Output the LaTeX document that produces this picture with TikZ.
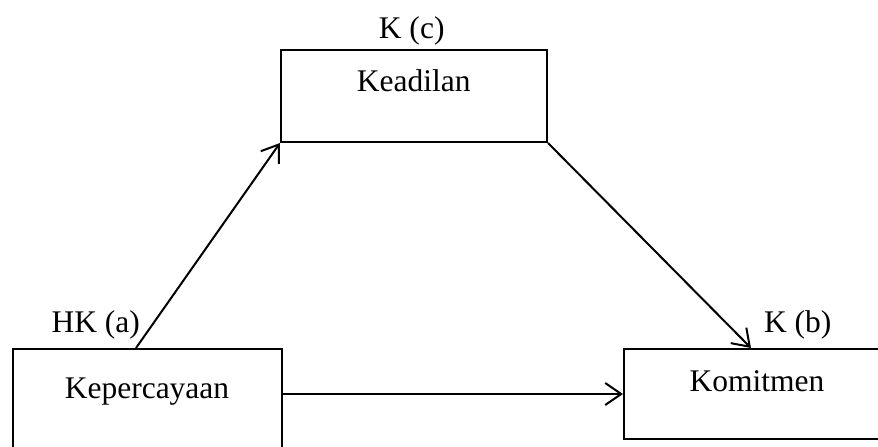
\documentclass[tikz,border=0pt]{standalone}
\usepackage{fontspec}
\setmainfont{Liberation Serif}
\usetikzlibrary{arrows.meta,calc}
\tikzset{
  box/.style={draw, line width=2bp, inner sep=0pt},
  lbl/.style={anchor=base, inner sep=0pt, font=\fontsize{31.5bp}{38bp}\selectfont},
  arr/.style={line width=2bp, -{Straight Barb[length=16bp, width=22bp, line width=2bp]}}
}
\begin{document}
\begin{tikzpicture}[x=1bp, y=-1bp]
  \useasboundingbox (0,0) rectangle (878,447);
  \clip (0,0) rectangle (878,447);
  % boxes
  \node[box, minimum width=266bp, minimum height=92bp] (kead) at (414,96) {};
  \node[box, minimum width=269bp, minimum height=104bp] (kep) at (147.5,401) {};
  \node[box, minimum width=264bp, minimum height=90bp] (kom) at (756,394) {};
  % labels
  \node[lbl] (tkead) at (413.7,92) {Keadilan};
  \node[lbl] (tkep) at (147,398) {Kepercayaan};
  \node[lbl] (tkom) at (757,391) {Komitmen};
  \node[lbl] (lc) at (411.7,39) {K (c)};
  \node[lbl] (la) at (95.8,333) {HK (a)};
  \node[lbl] (lb) at (797.8,333) {K (b)};
  % connectors
  \draw[arr] ($(kep.north west)+(124,0)$) -- (kead.south west);
  \draw[arr] (kead.south east) -- ($(kom.north west)+(128,0)$);
  \draw[arr] (kep.east |- kom.west) -- (kom.west);
\end{tikzpicture}
\end{document}
